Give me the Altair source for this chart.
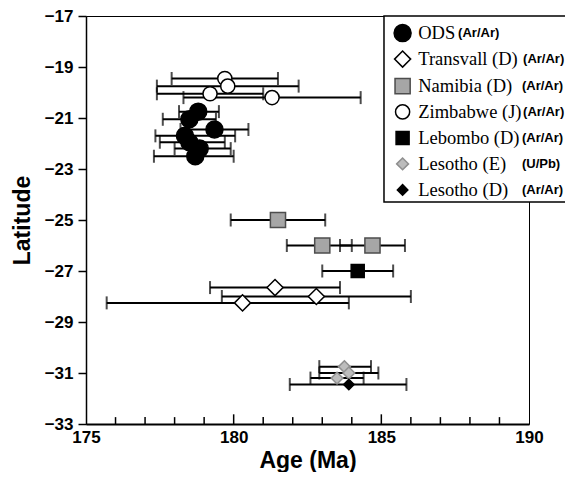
import altair as alt
import pandas as pd

# ---------------- data ----------------
series_names = ["ODS", "Transvall (D)", "Namibia (D)", "Zimbabwe (J)",
                "Lebombo (D)", "Lesotho (E)", "Lesotho (D)"]
methods = ["(Ar/Ar)", "(Ar/Ar)", "(Ar/Ar)", "(Ar/Ar)", "(Ar/Ar)", "(U/Pb)", "(Ar/Ar)"]

ods_age = [178.8, 178.5, 179.35, 178.35, 178.5, 178.85, 178.7]
ods_lat = [-20.75, -21.05, -21.45, -21.7, -21.95, -22.2, -22.5]
ods_lo = [178.15, 177.6, 178.2, 177.35, 177.5, 178.0, 177.3]
ods_hi = [179.5, 179.4, 180.5, 180.05, 179.7, 179.9, 180.0]

tra_age = [181.4, 182.8, 180.3]
tra_lat = [-27.65, -28.0, -28.25]
tra_lo = [179.2, 179.6, 175.7]
tra_hi = [183.6, 186.0, 183.9]

nam_age = [181.5, 183.0, 184.7]
nam_lat = [-25.0, -26.0, -26.0]
nam_lo = [179.9, 181.8, 183.6]
nam_hi = [183.1, 184.0, 185.8]

zim_age = [179.7, 179.8, 179.2, 181.3]
zim_lat = [-19.45, -19.75, -20.05, -20.2]
zim_lo = [177.9, 177.4, 177.4, 178.3]
zim_hi = [181.5, 182.2, 181.0, 184.3]

leb_age = [184.2]
leb_lat = [-27.0]
leb_lo = [183.0]
leb_hi = [185.4]

lse_age = [183.75, 183.9, 183.5]
lse_lat = [-30.75, -31.0, -31.2]
lse_lo = [182.9, 182.9, 182.6]
lse_hi = [184.65, 184.9, 184.4]

lsd_age = [183.9]
lsd_lat = [-31.45]
lsd_lo = [181.9]
lsd_hi = [185.85]

x_label_values = [175, 180, 185, 190]
y_label_values = [-17, -19, -21, -23, -25, -27, -29, -31, -33]
minor_ticks = [176, 177, 178, 179, 181, 182, 183, 184, 186, 187, 188, 189]
major_ticks = [180, 185]

# ---------------- tables ----------------
groups = [
    ("ODS", ods_age, ods_lat, ods_lo, ods_hi),
    ("Transvall (D)", tra_age, tra_lat, tra_lo, tra_hi),
    ("Namibia (D)", nam_age, nam_lat, nam_lo, nam_hi),
    ("Zimbabwe (J)", zim_age, zim_lat, zim_lo, zim_hi),
    ("Lebombo (D)", leb_age, leb_lat, leb_lo, leb_hi),
    ("Lesotho (E)", lse_age, lse_lat, lse_lo, lse_hi),
    ("Lesotho (D)", lsd_age, lsd_lat, lsd_lo, lsd_hi),
]
rows = []
for name, a, l, lo, hi in groups:
    for i in range(len(a)):
        rows.append({"series": name, "age": a[i], "lat": l[i], "lo": lo[i], "hi": hi[i]})
df = pd.DataFrame(rows)

# legend layout (in data units)
leg_lat = [-17.67, -18.69, -19.75, -20.76, -21.78, -22.80, -23.82]
leg_sym_x = 185.72
leg_name_x = 186.25
leg_method_x = [187.6, 189.8, 189.76, 189.8, 189.76, 189.76, 189.76]
leg = pd.DataFrame({
    "series": series_names, "lat": leg_lat,
    "sx": [leg_sym_x] * 7, "nx": [leg_name_x] * 7,
    "mx": leg_method_x, "method": methods,
})
box = pd.DataFrame({"x0": [185.09], "x1": [191.8], "y0": [-17.0], "y1": [-24.29]})

ticks = pd.DataFrame(
    [{"t": t, "y0": -33, "y1": -32.73} for t in minor_ticks]
    + [{"t": t, "y0": -33, "y1": -32.62} for t in major_ticks]
)

# ---------------- styles ----------------
shape_range = ["circle", "diamond", "square", "circle", "square", "diamond", "diamond"]
fill_range = ["#000000", "#ffffff", "#a6a6a6", "#ffffff", "#000000", "#bcbcbc", "#000000"]
stroke_range = ["#000000", "#000000", "#4d4d4d", "#000000", "#000000", "#8f8f8f", "#000000"]
size_range = [289, 110, 110, 100, 140, 140, 130]

xscale = alt.Scale(domain=[175, 190], nice=False, zero=False)
yscale = alt.Scale(domain=[-33, -17], nice=False, zero=False)
FONT = "Liberation Sans"
xaxis = alt.Axis(values=x_label_values, ticks=False, grid=False, title="Age (Ma)",
                 labelFont=FONT, labelFontWeight="bold", labelFontSize=17,
                 labelColor="black", labelPadding=5, labelFlush=False,
                 labelOverlap=False, domainColor="black",
                 domainWidth=2, titleFont=FONT, titleFontSize=23,
                 titleFontWeight="bold", titleColor="black", titlePadding=4)
yaxis = alt.Axis(values=y_label_values, tickSize=8, tickWidth=1.5, tickColor="black",
                 grid=False, title="Latitude", labelFont=FONT, labelFontWeight="bold",
                 labelFontSize=17, labelColor="black", labelPadding=5,
                 labelFlush=False, labelOverlap=False,
                 domainColor="black", domainWidth=1.5, titleFont=FONT,
                 titleFontSize=23, titleFontWeight="bold", titleColor="black",
                 titlePadding=10)


def X(f):
    return alt.X(f, type="quantitative", scale=xscale, axis=xaxis)


def Y(f):
    return alt.Y(f, type="quantitative", scale=yscale, axis=yaxis)


def sym_enc():
    return dict(
        shape=alt.Shape("series:N", scale=alt.Scale(domain=series_names, range=shape_range), legend=None),
        fill=alt.Fill("series:N", scale=alt.Scale(domain=series_names, range=fill_range), legend=None),
        stroke=alt.Stroke("series:N", scale=alt.Scale(domain=series_names, range=stroke_range), legend=None),
        size=alt.Size("series:N", scale=alt.Scale(domain=series_names, range=size_range), legend=None),
    )


base = alt.Chart(df)
bars = base.mark_rule(color="black", strokeWidth=2).encode(x=X("lo"), x2="hi", y=Y("lat"))
cap_lo = base.mark_tick(color="black", orient="vertical", size=13, thickness=2).encode(x=X("lo"), y=Y("lat"))
cap_hi = base.mark_tick(color="black", orient="vertical", size=13, thickness=2).encode(x=X("hi"), y=Y("lat"))
pts = base.mark_point(opacity=1, strokeWidth=1.5).encode(x=X("age"), y=Y("lat"), **sym_enc())

xt = alt.Chart(ticks).mark_rule(color="black", strokeWidth=1.5).encode(x=X("t"), y=Y("y0"), y2="y1")

legbox = alt.Chart(box).mark_rect(fill="white", stroke="black", strokeWidth=1.5).encode(
    x=X("x0"), x2="x1", y=Y("y0"), y2="y1")
legsym = alt.Chart(leg).mark_point(opacity=1, strokeWidth=1.5).encode(x=X("sx"), y=Y("lat"), **sym_enc())
legname = alt.Chart(leg).mark_text(align="left", baseline="middle", font="Liberation Serif",
                                   fontSize=18.5, color="black").encode(
    x=X("nx"), y=Y("lat"), text="series:N")
legmeth = alt.Chart(leg).mark_text(align="left", baseline="middle", font=FONT, fontWeight="bold",
                                   fontSize=13, color="black").encode(
    x=X("mx"), y=Y("lat"), text="method:N")

chart = alt.layer(xt, bars, cap_lo, cap_hi, pts, legbox, legsym, legname, legmeth).properties(
    width=443, height=408,
    padding={"left": 78, "top": 8, "right": 36, "bottom": 48},
    autosize=alt.AutoSizeParams(type="none"),
    background="white",
).configure_view(stroke="black", strokeWidth=1)

chart.save("out.html", embed_options={"renderer": "svg", "actions": False})
